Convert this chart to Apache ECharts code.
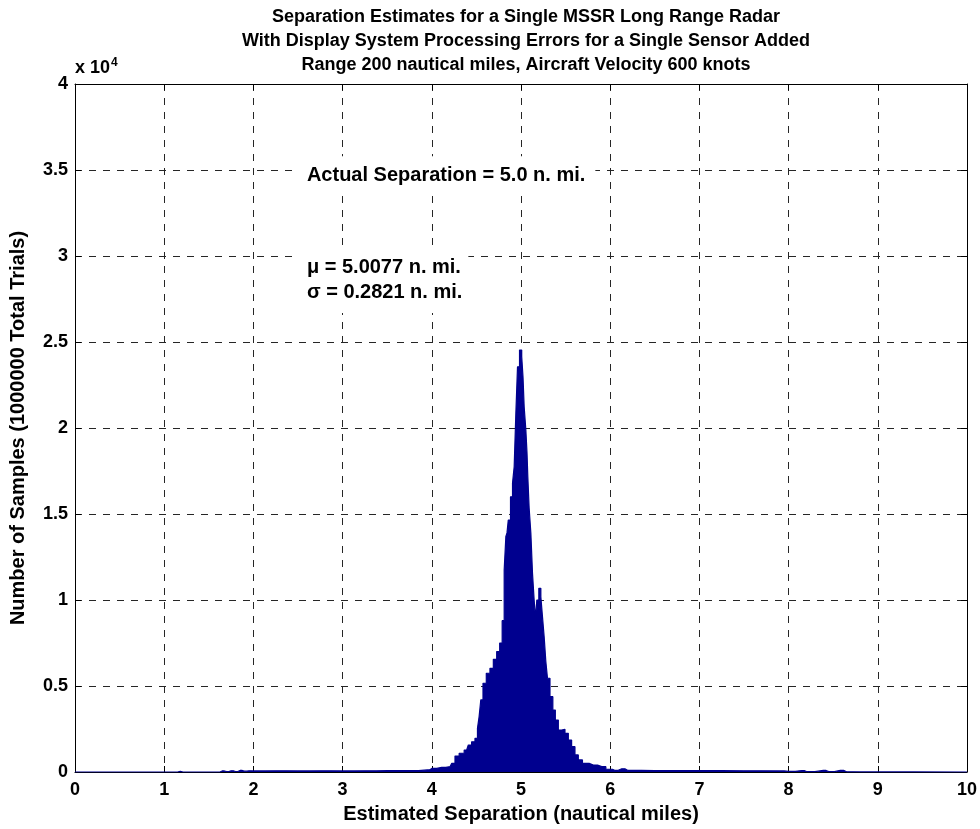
<!DOCTYPE html>
<html>
<head>
<meta charset="utf-8">
<title>Separation Estimates Histogram</title>
<script src="https://cdn.jsdelivr.net/npm/echarts@6/dist/echarts.min.js"></script>
<style>
  html, body { margin: 0; padding: 0; background: #ffffff; }
  #chart { width: 980px; height: 829px; }
</style>
</head>
<body>
<div id="chart"></div>
<script>
// Histogram of estimated separation (nautical miles) vs. number of samples.
// Bin positions (n. mi.) and counts, split into the low tail, the core and the high tail.
const lowTailX = [0.00, 1.15, 1.18, 1.21, 1.60, 1.65, 1.70, 1.75, 1.80, 1.85, 1.90, 1.95, 2.00, 2.25, 2.50, 2.75, 3.00, 3.25, 3.50, 3.75, 3.95];
const lowTailY = [0,    0,    40,   0,    0,    60,   20,   70,   30,   90,   50,   70,   60,   70,   60,   70,   60,   70,   75,   80,   120];

const coreX = [4.000, 4.111, 4.204, 4.241, 4.279, 4.335, 4.391, 4.428, 4.465, 4.503, 4.521, 4.540, 4.559,
               4.589, 4.633, 4.671, 4.709, 4.746, 4.776, 4.802, 4.821, 4.840, 4.846, 4.869, 4.896, 4.914,
               4.933, 4.952, 4.970, 4.997, 5.019, 5.026, 5.045, 5.064, 5.071, 5.082, 5.101, 5.120, 5.138,
               5.157, 5.168, 5.187, 5.213, 5.232, 5.250, 5.269, 5.288, 5.306, 5.344, 5.370, 5.400, 5.437,
               5.474, 5.512, 5.549, 5.586, 5.624, 5.661, 5.717, 5.811, 5.905, 5.998];
const coreY = [210,   270,   310,   500,   930,   1090,  1280,  1570,  1760,  1960,  2540,  3220,  4190,
               5160,  5740,  6030,  6550,  7000,  7500,  8800,  11740, 13700, 13900, 14650, 16000, 16800,
               17750, 20870, 23560, 24530, 24150, 22980, 21240, 19880, 18550, 17170, 15330, 13900, 11550,
               10000, 8950,  10000, 10680, 10190, 9030,  7870,  6420,  5450,  4380,  3600,  3020,  2440,
               2480,  2250,  1860,  1470,  990,   700,   500,   400,   310,   160];

const highTailX = [6.05, 6.13, 6.20, 6.50, 7.00, 7.50, 7.90, 8.00, 8.15, 8.20, 8.39, 8.45, 8.58, 8.65, 8.80, 10.00];
const highTailY = [100,  190,  90,   80,   75,   70,   60,   40,   80,   20,   90,   20,   100,  10,   5,    0];

// Axis tick values
const xTicks = [0, 1, 2, 3, 4, 5, 6, 7, 8, 9, 10];
const yTickLabels = ['0', '0.5', '1', '1.5', '2', '2.5', '3', '3.5', '4'];

const titleLines = [
  'Separation Estimates for a Single MSSR Long Range Radar',
  'With Display System Processing Errors for a Single Sensor Added',
  'Range 200 nautical miles, Aircraft Velocity 600 knots'
];

const FONT = '"Liberation Sans", Arial, Helvetica, sans-serif';
const BAR_COLOR = '#00008f';

const seriesData = []
  .concat(lowTailX.map((x, i) => [x, lowTailY[i]]))
  .concat(coreX.map((x, i) => [x, coreY[i]]))
  .concat(highTailX.map((x, i) => [x, highTailY[i]]));

const chart = echarts.init(document.getElementById('chart'), null, { renderer: 'canvas' });

const gridLine = { show: true, lineStyle: { color: '#262626', type: [7, 7], width: 1 } };
const tickStyle = { color: '#000', fontFamily: FONT, fontWeight: 'bold', fontSize: 18 };
const nameStyle = { color: '#000', fontFamily: FONT, fontWeight: 'bold', fontSize: 20 };

const option = {
  backgroundColor: '#ffffff',
  animation: false,
  title: {
    text: titleLines.join('\n'),
    left: 521,
    top: 0,
    textAlign: 'center',
    textStyle: { color: '#000', fontFamily: FONT, fontWeight: 'bold', fontSize: 18, lineHeight: 24 }
  },
  grid: { left: 75, right: 13, top: 84, bottom: 57, containLabel: false },
  xAxis: [
    {
      type: 'value', min: 0, max: 10, interval: 1, position: 'bottom',
      name: 'Estimated Separation (nautical miles)',
      nameLocation: 'middle', nameGap: 32,
      nameTextStyle: nameStyle,
      axisLine: { show: true, onZero: false, lineStyle: { color: '#000', width: 1 } },
      axisTick: { show: true, inside: true, length: 6, lineStyle: { color: '#000' } },
      axisLabel: Object.assign({ margin: 9, formatter: v => String(xTicks[Math.round(v)]) }, tickStyle),
      splitLine: gridLine
    },
    {
      type: 'value', min: 0, max: 10, interval: 1, position: 'top',
      axisLine: { show: true, onZero: false, lineStyle: { color: '#000', width: 1 } },
      axisTick: { show: true, inside: true, length: 6, lineStyle: { color: '#000' } },
      axisLabel: { show: false },
      splitLine: { show: false }
    }
  ],
  yAxis: [
    {
      type: 'value', min: 0, max: 40000, interval: 5000, position: 'left',
      name: 'Number of Samples (1000000 Total Trials)',
      nameLocation: 'middle', nameGap: 47,
      nameTextStyle: nameStyle,
      axisLine: { show: true, onZero: false, lineStyle: { color: '#000', width: 1 } },
      axisTick: { show: true, inside: true, length: 6, lineStyle: { color: '#000' } },
      axisLabel: Object.assign({ margin: 7, formatter: v => yTickLabels[Math.round(v / 5000)] }, tickStyle),
      splitLine: gridLine
    },
    {
      type: 'value', min: 0, max: 40000, interval: 5000, position: 'right',
      axisLine: { show: true, onZero: false, lineStyle: { color: '#000', width: 1 } },
      axisTick: { show: true, inside: true, length: 6, lineStyle: { color: '#000' } },
      axisLabel: { show: false },
      splitLine: { show: false }
    }
  ],
  series: [
    {
      type: 'line',
      name: 'Samples',
      xAxisIndex: 0,
      yAxisIndex: 0,
      data: seriesData,
      step: 'middle',
      showSymbol: false,
      symbol: 'none',
      lineStyle: { color: BAR_COLOR, width: 1.2 },
      areaStyle: { color: BAR_COLOR, opacity: 1 },
      z: 3
    }
  ]
};

chart.setOption(option);

// Annotations placed in data coordinates, each on a white box over the grid
const pActual = chart.convertToPixel({ gridIndex: 0 }, [2.6, 34700]);
const pStats = chart.convertToPixel({ gridIndex: 0 }, [2.6, 28600]);
const pExp = chart.convertToPixel({ gridIndex: 0 }, [0, 40000]);

chart.setOption({
  graphic: [
    {
      type: 'text', x: pActual[0] - 9, y: pActual[1], z: 10,
      style: { text: 'Actual Separation = 5.0 n. mi.', fill: '#000', font: 'bold 20px ' + FONT,
               textAlign: 'left', textVerticalAlign: 'middle',
               backgroundColor: '#ffffff', padding: [9, 10, 9, 9] }
    },
    {
      type: 'text', x: pStats[0] - 9, y: pStats[1], z: 10,
      style: { text: '\u03bc = 5.0077 n. mi.\n\u03c3 = 0.2821 n. mi.', fill: '#000', font: 'bold 20px ' + FONT,
               lineHeight: 25, textAlign: 'left', textVerticalAlign: 'middle',
               backgroundColor: '#ffffff', padding: [14, 6, 2, 9] }
    },
    {
      type: 'text', x: pExp[0], y: pExp[1] - 5, z: 10,
      style: {
        text: '{b|x 10}{s|4}',
        textAlign: 'left', textVerticalAlign: 'bottom',
        rich: {
          b: { fill: '#000', fontFamily: FONT, fontWeight: 'bold', fontSize: 18 },
          s: { fill: '#000', fontFamily: FONT, fontWeight: 'bold', fontSize: 12, verticalAlign: 'top', padding: [0, 0, 10, 1] }
        }
      }
    }
  ]
});
</script>
</body>
</html>
